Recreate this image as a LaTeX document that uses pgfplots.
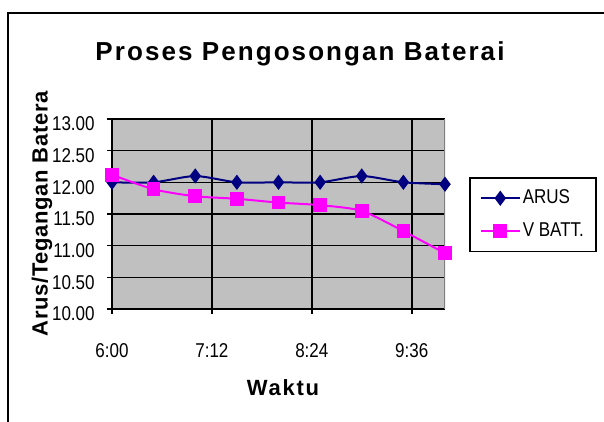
\documentclass[border=0pt]{standalone}
\usepackage{fontspec}
\setmainfont{Liberation Sans}
\newfontfamily\spacedbold[LetterSpace=8]{Liberation Sans Bold}
\newfontfamily\spacedboldsmall[LetterSpace=3]{Liberation Sans Bold}
\newfontfamily\narrowfont[FakeStretch=0.85]{Liberation Sans}
\usepackage{pgfplots}
\pgfplotsset{compat=1.18}
\definecolor{arus}{RGB}{0,0,128}
\definecolor{vbatt}{RGB}{255,0,255}
\definecolor{plotbg}{RGB}{192,192,192}
\begin{document}
\begin{tikzpicture}
\useasboundingbox (0,0) rectangle (302pt,211pt);
\draw[line width=1pt] (4pt,-2pt) -- (4pt,204.5pt) -- (304pt,204.5pt);
\node[font=\fontsize{13}{15}\spacedbold] at (150pt,184pt) {Proses Pengosongan Baterai};
\node[rotate=90, font=\fontsize{11}{13}\spacedboldsmall] at (21pt,104pt) {Arus/Tegangan Batera};
\node[font=\fontsize{11}{13}\spacedbold] at (141.5pt,17pt) {Waktu};
\begin{axis}[
  at={(56pt,56.5pt)}, anchor=south west,
  scale only axis, width=166.5pt, height=95pt,
  xmin=0, xmax=240, ymin=10, ymax=13,
  xtick={0,72,144,216}, xticklabels={6:00,7:12,8:24,9:36},
  ytick={10,10.5,11,11.5,12,12.5,13},
  yticklabels={10.00,10.50,11.00,11.50,12.00,12.50,13.00},
  axis x line*=bottom, axis y line*=left,
  axis line style={black, line width=0.8pt, -},
  xtick pos=bottom, ytick pos=left,
  tick align=outside, major tick length=2.5pt,
  tick style={black, line width=0.8pt},
  grid=major, major grid style={black, line width=0.8pt},
  axis background/.style={fill=plotbg},
  tick label style={font=\fontsize{10}{11}\narrowfont, inner sep=0pt},
  xticklabel style={anchor=north, yshift=-14.5pt},
  yticklabel style={anchor=east, xshift=-6pt, yshift=-2.5pt},
  legend style={at={(1.072,0.695)}, anchor=north west, draw=black, line width=0.8pt,
    fill=white, font=\fontsize{10}{11}\narrowfont, inner xsep=5pt, inner ysep=5pt,
    row sep=6pt, cells={anchor=west}, nodes={inner sep=1pt}},
  legend image code/.code={\draw[mark repeat=2,mark phase=2,#1] plot coordinates {(0pt,0pt) (9.75pt,0pt) (19.5pt,0pt)};},
]
\addplot[color=arus, line width=1pt, smooth, tension=0.4, mark=diamond*,
  mark size=3pt, mark options={solid, fill=arus}]
  coordinates {(0,12.0) (30,12.0) (60,12.1) (90,12.0) (120,12.0) (150,12.0) (180,12.1) (210,12.0) (240,11.97)};
\addlegendentry{ARUS}
\addplot[color=vbatt, line width=1pt, smooth, tension=0.4, mark=square*,
  mark size=2.9pt, mark options={solid, fill=vbatt}]
  coordinates {(0,12.12) (30,11.89) (60,11.78) (90,11.74) (120,11.68) (150,11.64) (180,11.55) (210,11.23) (240,10.88)};
\addlegendentry{V BATT.}
\draw[gray, line width=0.8pt] (rel axis cs:1,0) -- (rel axis cs:1,1);
\end{axis}
\end{tikzpicture}
\end{document}
